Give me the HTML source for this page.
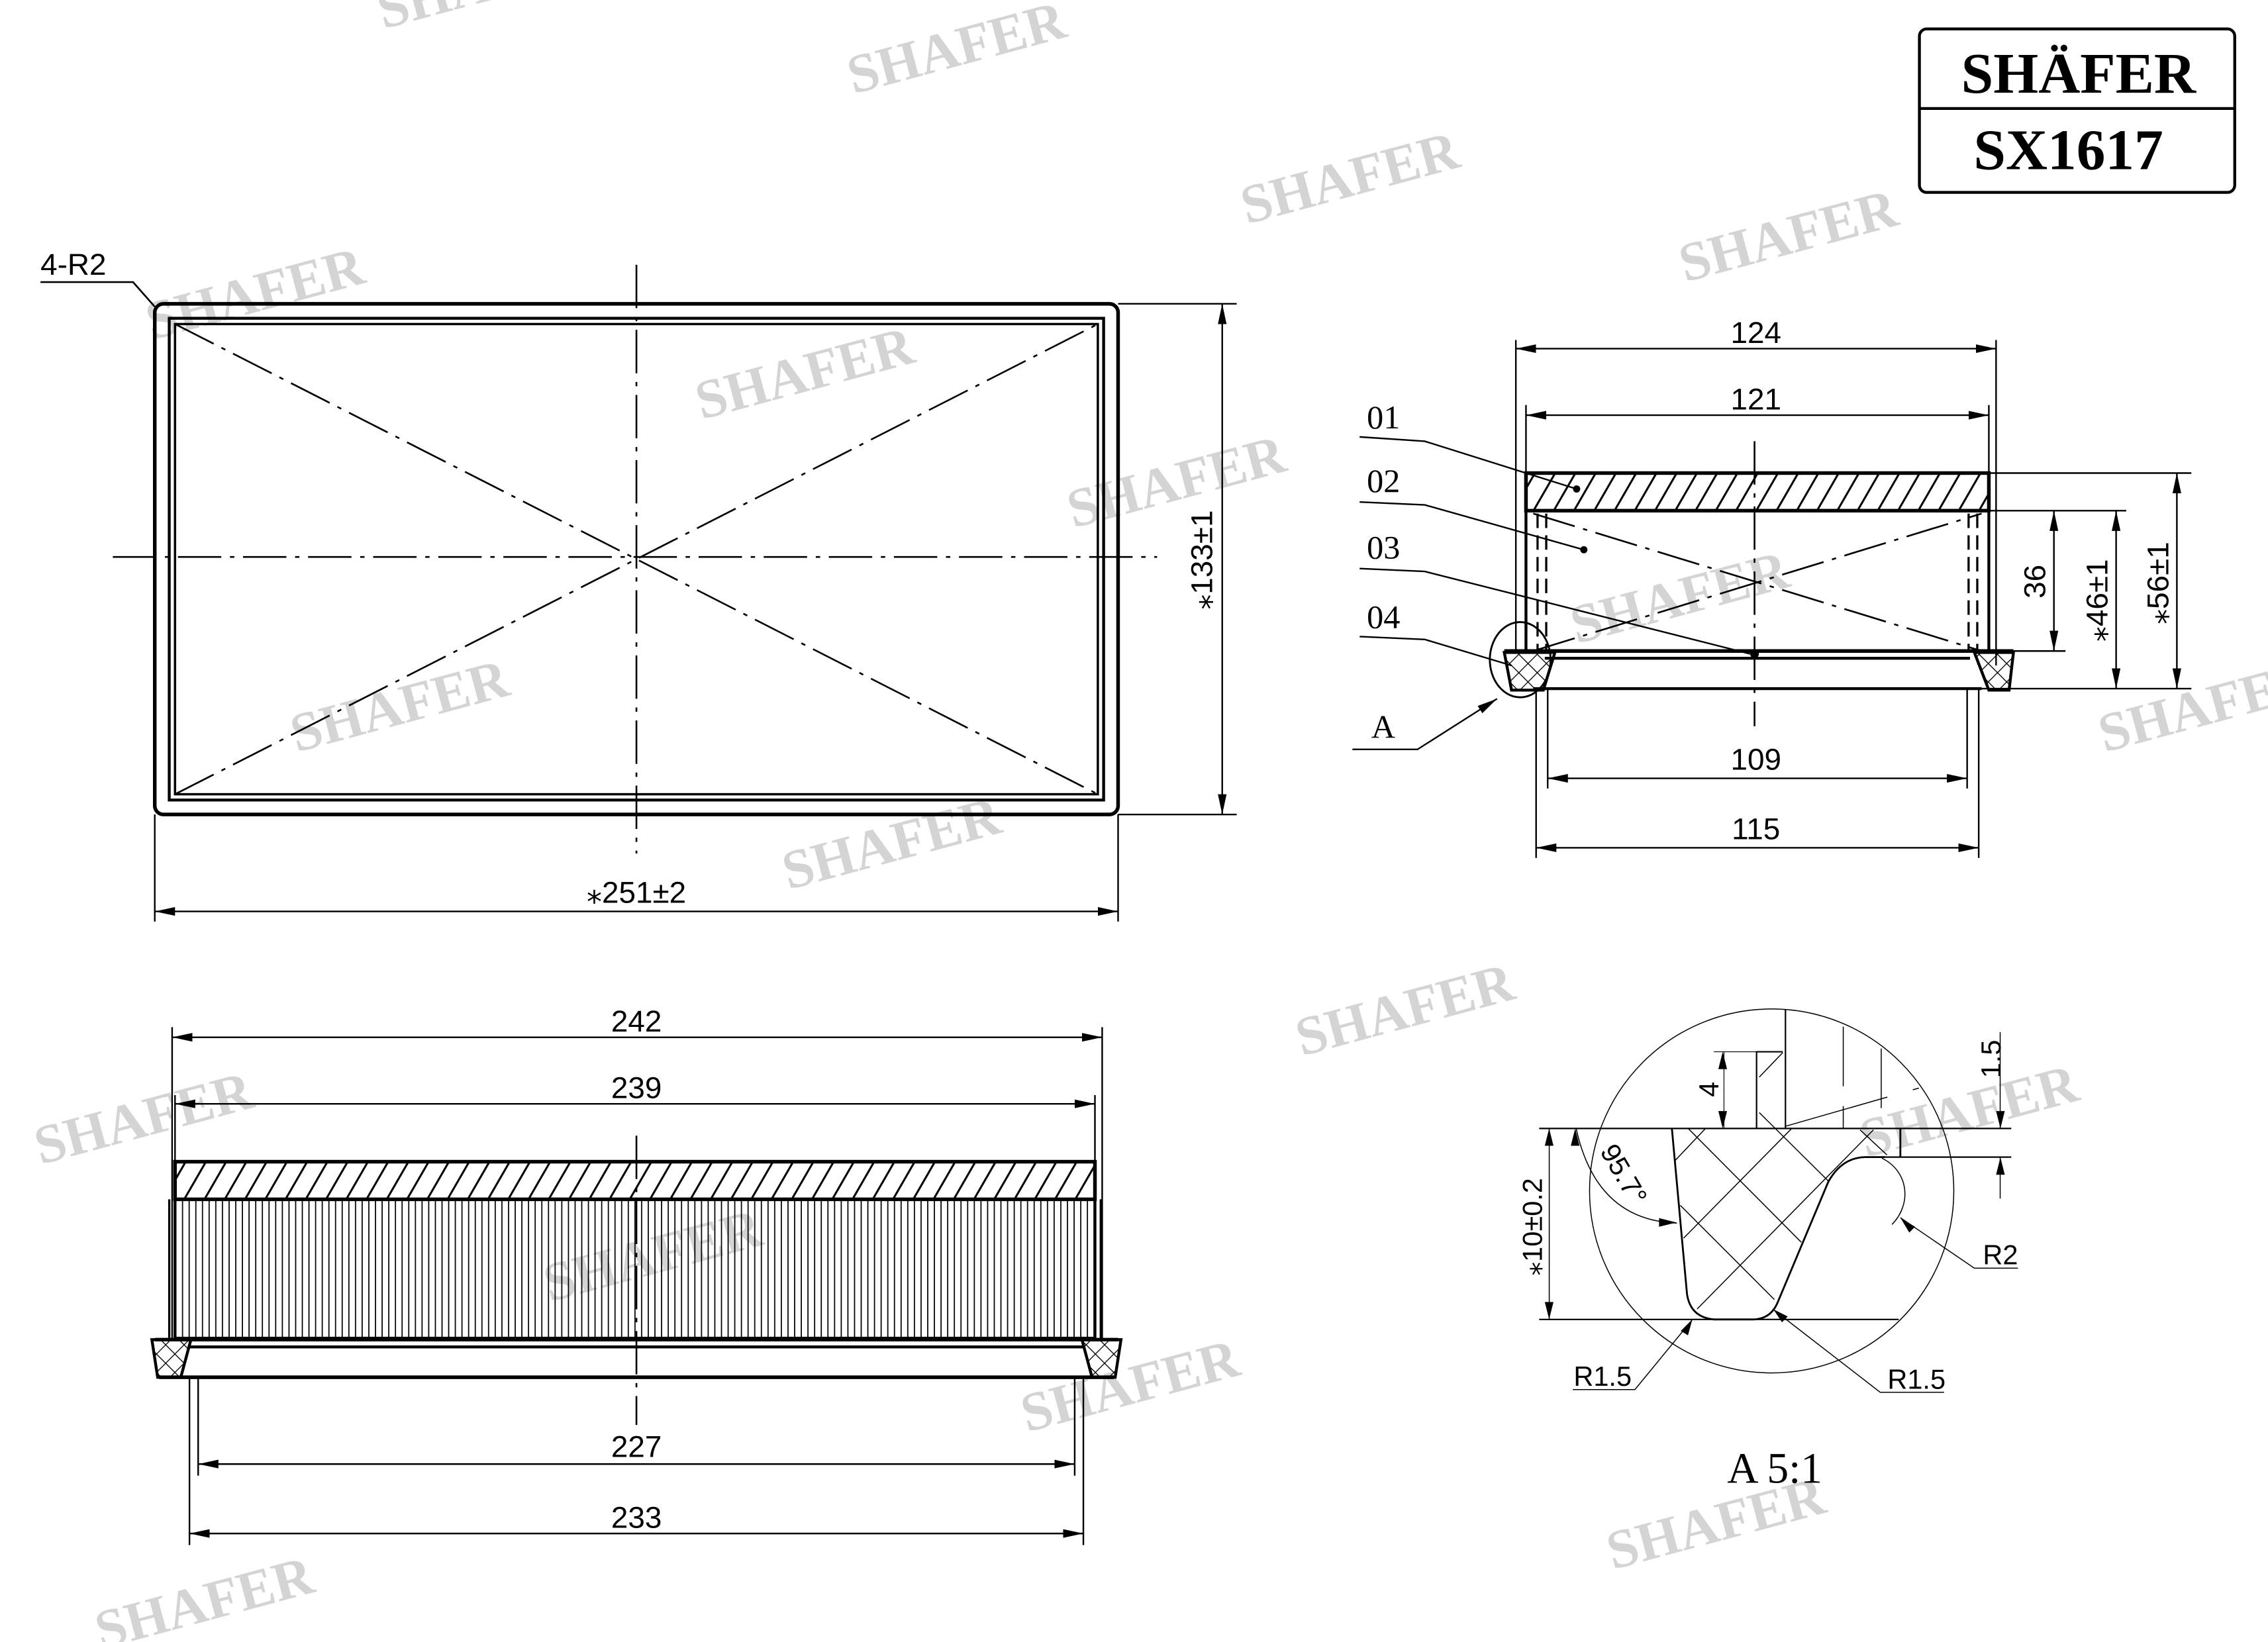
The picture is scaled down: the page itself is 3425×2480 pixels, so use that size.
<!DOCTYPE html>
<html><head><meta charset="utf-8"><style>
html,body{margin:0;padding:0;background:#fff;}
svg{display:block;}
.d{font-family:"Liberation Sans","DejaVu Sans",sans-serif;font-size:21px;fill:#000;}
.s{font-family:"Liberation Serif",serif;font-size:23px;fill:#000;}
.w{font-family:"Liberation Serif",serif;font-weight:bold;font-size:38px;fill:#d4d4d4;}
</style></head><body>
<svg width="3425" height="2480" viewBox="0 0 1568 1135" preserveAspectRatio="none" xmlns="http://www.w3.org/2000/svg">
<defs>
<marker id="a" viewBox="0 0 14 6" refX="14" refY="3" markerWidth="14" markerHeight="6" markerUnits="userSpaceOnUse" orient="auto-start-reverse"><path d="M0,0 L14,3 L0,6 z" fill="#000"/></marker>
<pattern id="h" width="14" height="30" patternUnits="userSpaceOnUse" patternTransform="skewX(-30)"><line x1="4" y1="0" x2="4" y2="30" stroke="#000" stroke-width="1.6"/></pattern>
<pattern id="p" width="4.6" height="10" patternUnits="userSpaceOnUse"><line x1="2" y1="0" x2="2" y2="10" stroke="#000" stroke-width="0.8"/></pattern>
<pattern id="x" width="9" height="9" patternUnits="userSpaceOnUse" patternTransform="rotate(45)"><path d="M0,0 H9 M0,0 V9" stroke="#000" stroke-width="1.2" fill="none"/></pattern>
</defs>
<rect width="1568" height="1135" fill="#fff"/>

<!-- watermarks -->
<g class="w">
<text transform="translate(265,20) rotate(-15)">SHAFER</text>
<text transform="translate(590,65) rotate(-15)">SHAFER</text>
<text transform="translate(862,155) rotate(-15)">SHAFER</text>
<text transform="translate(1165,195) rotate(-15)">SHAFER</text>
<text transform="translate(105,235) rotate(-15)">SHAFER</text>
<text transform="translate(485,290) rotate(-15)">SHAFER</text>
<text transform="translate(742,365) rotate(-15)">SHAFER</text>
<text transform="translate(1090,445) rotate(-15)">SHAFER</text>
<text transform="translate(1455,520) rotate(-15)">SHAFER</text>
<text transform="translate(205,520) rotate(-15)">SHAFER</text>
<text transform="translate(545,615) rotate(-15)">SHAFER</text>
<text transform="translate(900,730) rotate(-15)">SHAFER</text>
<text transform="translate(28,805) rotate(-15)">SHAFER</text>
<text transform="translate(1290,800) rotate(-15)">SHAFER</text>
<text transform="translate(710,990) rotate(-15)">SHAFER</text>
<text transform="translate(380,900) rotate(-15)">SHAFER</text>
<text transform="translate(1115,1085) rotate(-15)">SHAFER</text>
<text transform="translate(70,1140) rotate(-15)">SHAFER</text>
</g>

<!-- logo -->
<rect x="1327" y="20" width="218" height="113" rx="5" fill="none" stroke="#000" stroke-width="2"/>
<line x1="1327" y1="75" x2="1545" y2="75" stroke="#000" stroke-width="2"/>
<text x="1437" y="64" text-anchor="middle" font-family="Liberation Serif,serif" font-weight="bold" font-size="40">SHÄFER</text>
<text x="1430" y="117" text-anchor="middle" font-family="Liberation Serif,serif" font-weight="bold" font-size="40">SX1617</text>

<g stroke="#000" fill="none">
<!-- top view -->
<rect x="107" y="210" width="666" height="353" rx="6" stroke-width="2.5"/>
<rect x="117" y="220" width="646" height="333" stroke-width="2"/>
<rect x="121" y="224" width="638" height="325" stroke-width="1.6"/>
<g stroke-width="1.2" stroke-dasharray="30,6,3,6">
<line x1="121" y1="224" x2="759" y2="549"/><line x1="121" y1="549" x2="759" y2="224"/>
<line x1="78" y1="385" x2="800" y2="385"/><line x1="440" y1="183" x2="440" y2="590"/>
</g>
<polyline points="28,195 92,195 107,212" stroke-width="1.2"/>
<g stroke-width="1.1">
<line x1="773" y1="210" x2="855" y2="210"/><line x1="773" y1="563" x2="855" y2="563"/>
<line x1="845" y1="210" x2="845" y2="563" marker-start="url(#a)" marker-end="url(#a)"/>
<line x1="107" y1="563" x2="107" y2="637"/><line x1="773" y1="563" x2="773" y2="637"/>
<line x1="107" y1="630" x2="773" y2="630" marker-start="url(#a)" marker-end="url(#a)"/>
</g>

<!-- side view -->
<rect x="1055" y="327" width="320" height="26" fill="url(#h)" stroke-width="2.5"/>
<line x1="1055" y1="353" x2="1055" y2="450" stroke-width="2"/>
<line x1="1375" y1="353" x2="1375" y2="450" stroke-width="2"/>
<g stroke-width="1.5" stroke-dasharray="10,5"><line x1="1063" y1="355" x2="1063" y2="450"/><line x1="1069" y1="355" x2="1069" y2="450"/><line x1="1361" y1="355" x2="1361" y2="450"/><line x1="1367" y1="355" x2="1367" y2="450"/></g>
<line x1="1040" y1="450" x2="1392" y2="450" stroke-width="2.5"/>
<line x1="1068" y1="455" x2="1362" y2="455" stroke-width="2"/>
<line x1="1060" y1="476" x2="1370" y2="476" stroke-width="2"/>
<path d="M1040,451 L1075,451 L1067,477 L1045,477 Z" fill="url(#x)" stroke-width="2"/>
<path d="M1365,451 L1392,451 L1389,477 L1375,477 Z" fill="url(#x)" stroke-width="2"/>
<ellipse cx="1051" cy="456" rx="21" ry="26" stroke-width="1.3"/>
<g stroke-width="1.2" stroke-dasharray="30,6,3,6">
<line x1="1060" y1="355" x2="1370" y2="450"/><line x1="1060" y1="450" x2="1370" y2="355"/>
<line x1="1213" y1="305" x2="1213" y2="502"/>
</g>
<g stroke-width="1.1">
<line x1="1048" y1="235" x2="1048" y2="450"/><line x1="1380" y1="235" x2="1380" y2="460"/>
<line x1="1048" y1="241" x2="1380" y2="241" marker-start="url(#a)" marker-end="url(#a)"/>
<line x1="1055" y1="280" x2="1055" y2="327"/><line x1="1375" y1="280" x2="1375" y2="327"/>
<line x1="1055" y1="287" x2="1375" y2="287" marker-start="url(#a)" marker-end="url(#a)"/>
<line x1="1070" y1="476" x2="1070" y2="545"/><line x1="1360" y1="476" x2="1360" y2="545"/>
<line x1="1070" y1="538" x2="1360" y2="538" marker-start="url(#a)" marker-end="url(#a)"/>
<line x1="1062" y1="476" x2="1062" y2="593"/><line x1="1368" y1="476" x2="1368" y2="593"/>
<line x1="1062" y1="586" x2="1368" y2="586" marker-start="url(#a)" marker-end="url(#a)"/>
<line x1="1375" y1="327" x2="1515" y2="327"/><line x1="1375" y1="353" x2="1470" y2="353"/>
<line x1="1392" y1="450" x2="1428" y2="450"/><line x1="1370" y1="476" x2="1515" y2="476"/>
<line x1="1420" y1="353" x2="1420" y2="450" marker-start="url(#a)" marker-end="url(#a)"/>
<line x1="1463" y1="353" x2="1463" y2="476" marker-start="url(#a)" marker-end="url(#a)"/>
<line x1="1505" y1="327" x2="1505" y2="476" marker-start="url(#a)" marker-end="url(#a)"/>
<polyline points="940,302 985,305 1090,338"/>
<polyline points="940,347 985,349 1095,380"/>
<polyline points="940,393 985,395 1210,452"/>
<polyline points="940,440 985,442 1045,460"/>
<polyline points="935,518 980,518 1035,483" marker-end="url(#a)"/>
</g>
<circle cx="1090" cy="338" r="2" fill="#000"/><circle cx="1095" cy="380" r="2" fill="#000"/><circle cx="1213" cy="452" r="2.5" fill="#000"/>

<!-- bottom-left view -->
<rect x="121" y="803" width="636" height="26" fill="url(#h)" stroke-width="2.5"/>
<rect x="121" y="829" width="636" height="96" fill="url(#p)" stroke-width="2"/>
<line x1="107" y1="926" x2="773" y2="926" stroke-width="2.5"/>
<line x1="130" y1="931" x2="750" y2="931" stroke-width="2"/>
<line x1="110" y1="952" x2="770" y2="952" stroke-width="2.5"/>
<path d="M105,926 L132,926 L125,952 L109,952 Z" fill="url(#x)" stroke-width="2"/>
<path d="M748,926 L775,926 L771,952 L755,952 Z" fill="url(#x)" stroke-width="2"/>
<line x1="117" y1="829" x2="117" y2="926" stroke-width="1.5"/><line x1="761" y1="829" x2="761" y2="926" stroke-width="1.5"/>
<line x1="440" y1="785" x2="440" y2="985" stroke-width="1.2" stroke-dasharray="30,6,3,6"/>
<g stroke-width="1.1">
<line x1="119" y1="710" x2="119" y2="926"/><line x1="762" y1="710" x2="762" y2="926"/>
<line x1="119" y1="717" x2="762" y2="717" marker-start="url(#a)" marker-end="url(#a)"/>
<line x1="121" y1="757" x2="121" y2="803"/><line x1="757" y1="757" x2="757" y2="803"/>
<line x1="121" y1="763" x2="757" y2="763" marker-start="url(#a)" marker-end="url(#a)"/>
<line x1="137" y1="952" x2="137" y2="1020"/><line x1="743" y1="952" x2="743" y2="1020"/>
<line x1="137" y1="1012" x2="743" y2="1012" marker-start="url(#a)" marker-end="url(#a)"/>
<line x1="131" y1="952" x2="131" y2="1068"/><line x1="749" y1="952" x2="749" y2="1068"/>
<line x1="131" y1="1060" x2="749" y2="1060" marker-start="url(#a)" marker-end="url(#a)"/>
</g>

<!-- detail A -->
<g transform="translate(1052.5,677.6) scale(0.2323,0.1886)">
<g vector-effect="non-scaling-stroke">
<ellipse cx="742" cy="772" rx="542" ry="667" stroke-width="1.5" vector-effect="non-scaling-stroke"/>
<line x1="50" y1="543" x2="1455" y2="543" stroke-width="2.2" vector-effect="non-scaling-stroke"/>
<line x1="1020" y1="648" x2="1455" y2="648" stroke-width="2.2" vector-effect="non-scaling-stroke"/>
<line x1="50" y1="1243" x2="1120" y2="1243" stroke-width="2.2" vector-effect="non-scaling-stroke"/>
<line x1="783" y1="105" x2="783" y2="543" stroke-width="2.2" vector-effect="non-scaling-stroke"/>
<polyline points="697,543 697,262 775,262" stroke-width="2.2" vector-effect="non-scaling-stroke"/>
<line x1="705" y1="355" x2="775" y2="265" stroke-width="1.5" vector-effect="non-scaling-stroke"/>
<line x1="570" y1="262" x2="697" y2="262" stroke-width="1.2" vector-effect="non-scaling-stroke"/>
<line x1="600" y1="262" x2="600" y2="543" stroke-width="1.2" vector-effect="non-scaling-stroke"/>
<line x1="955" y1="170" x2="955" y2="543" stroke-width="1.5" stroke-dasharray="90,30" vector-effect="non-scaling-stroke"/>
<line x1="1068" y1="250" x2="1068" y2="543" stroke-width="1.5" stroke-dasharray="90,30" vector-effect="non-scaling-stroke"/>
<line x1="783" y1="535" x2="1180" y2="395" stroke-width="1.5" stroke-dasharray="160,40,10,40" vector-effect="non-scaling-stroke"/>
<path d="M445,543 L490,1150 Q500,1235 570,1243 L690,1243 Q740,1240 760,1180 L910,740 Q950,650 1020,648 L1080,648" stroke-width="2.8" vector-effect="non-scaling-stroke"/>
<path d="M1070,652 C1150,700 1160,820 1100,895" stroke-width="1.5" vector-effect="non-scaling-stroke"/>
<line x1="1125" y1="543" x2="1125" y2="648" stroke-width="2.8" vector-effect="non-scaling-stroke"/>
<g stroke-width="1.5">
<line x1="455" y1="660" x2="545" y2="543" vector-effect="non-scaling-stroke"/>
<line x1="480" y1="945" x2="800" y2="545" vector-effect="non-scaling-stroke"/>
<line x1="520" y1="1205" x2="1045" y2="548" vector-effect="non-scaling-stroke"/>
<line x1="495" y1="545" x2="830" y2="960" vector-effect="non-scaling-stroke"/>
<line x1="470" y1="825" x2="750" y2="1170" vector-effect="non-scaling-stroke"/>
<line x1="705" y1="485" x2="910" y2="735" vector-effect="non-scaling-stroke"/>
<line x1="1005" y1="548" x2="1085" y2="640" vector-effect="non-scaling-stroke"/>
<line x1="1422" y1="190" x2="1422" y2="543" vector-effect="non-scaling-stroke"/>
<line x1="1422" y1="648" x2="1422" y2="800" vector-effect="non-scaling-stroke"/>
<line x1="80" y1="543" x2="80" y2="1243" vector-effect="non-scaling-stroke"/>
<path d="M160,543 Q220,880 460,890" vector-effect="non-scaling-stroke"/>
<polyline points="1125,870 1345,1055 1475,1055" vector-effect="non-scaling-stroke"/>
<polyline points="505,1245 335,1500 150,1500" vector-effect="non-scaling-stroke"/>
<polyline points="745,1205 1065,1510 1255,1510" vector-effect="non-scaling-stroke"/>
</g>
</g>
</g>
</g>
<!-- detail arrowheads -->
<g fill="#000">
<path d="M1191,727 L1188,739 L1194,739Z"/><path d="M1191,780 L1188,768 L1194,768Z"/>
<path d="M1383,780 L1380,768 L1386,768Z"/><path d="M1383,800 L1380,812 L1386,812Z"/>
<path d="M1071,780 L1068,792 L1074,792Z"/><path d="M1071,912 L1068,900 L1074,900Z"/>
<path d="M1089,780 L1086,792 L1092,792Z"/><path d="M1159,845 L1147,842 L1147,848Z"/>
<path d="M1314,842 L1320,852 L1324,848Z"/>
<path d="M1170,912 L1162,920 L1167,923Z"/><path d="M1226,905 L1232,914 L1236,910Z"/>
</g>

<!-- texts -->
<text class="d" x="28" y="190">4-R2</text>
<text class="d" x="440" y="624" text-anchor="middle">⁎251±2</text>
<text class="d" transform="translate(838,387) rotate(-90)" text-anchor="middle">⁎133±1</text>
<text class="d" x="1214" y="237" text-anchor="middle">124</text>
<text class="d" x="1214" y="283" text-anchor="middle">121</text>
<text class="d" x="1214" y="532" text-anchor="middle">109</text>
<text class="d" x="1214" y="580" text-anchor="middle">115</text>
<text class="d" transform="translate(1414,402) rotate(-90)" text-anchor="middle">36</text>
<text class="d" transform="translate(1457,415) rotate(-90)" text-anchor="middle">⁎46±1</text>
<text class="d" transform="translate(1499,403) rotate(-90)" text-anchor="middle">⁎56±1</text>
<text class="s" x="945" y="296">01</text>
<text class="s" x="945" y="340">02</text>
<text class="s" x="945" y="386">03</text>
<text class="s" x="945" y="434">04</text>
<text class="s" x="948" y="510">A</text>
<text class="d" x="440" y="713" text-anchor="middle">242</text>
<text class="d" x="440" y="759" text-anchor="middle">239</text>
<text class="d" x="440" y="1007" text-anchor="middle">227</text>
<text class="d" x="440" y="1056" text-anchor="middle">233</text>
<text class="d" style="font-size:19px" transform="translate(1188,753) rotate(-90)" text-anchor="middle">4</text>
<text class="d" style="font-size:19px" transform="translate(1383,732) rotate(-90)" text-anchor="middle">1.5</text>
<text class="d" style="font-size:19px" transform="translate(1066,848) rotate(-90)" text-anchor="middle">⁎10±0.2</text>
<text class="d" style="font-size:19px" transform="translate(1117,815) rotate(60)" text-anchor="middle">95.7°</text>
<text class="d" style="font-size:19px" x="1383" y="874" text-anchor="middle">R2</text>
<text class="d" style="font-size:19px" x="1108" y="958" text-anchor="middle">R1.5</text>
<text class="d" style="font-size:19px" x="1325" y="960" text-anchor="middle">R1.5</text>
<text class="s" style="font-size:30px" x="1227" y="1025" text-anchor="middle">A 5:1</text>
</svg>
</body></html>
